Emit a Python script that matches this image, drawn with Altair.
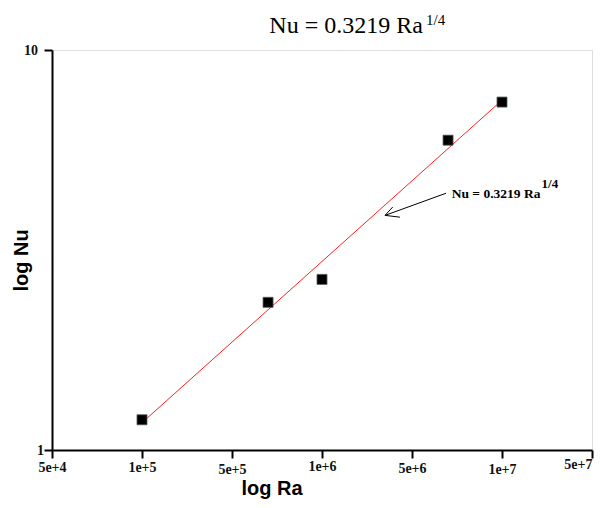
import altair as alt
import pandas as pd

# ---- data ----
ra_points = [1e5, 6.6e5, 1e6, 6.6e6, 1e7]
nu_points = [1.19, 2.34, 2.67, 5.95, 7.41]

fit_ra = [1e5, 9.8e6]
fit_nu = [1.17, 7.39]

x_ticks = [5e4, 1e5, 5e5, 1e6, 5e6, 1e7, 5e7]
y_ticks = [1, 10]

# annotation arrow segments (shaft, two head strokes)
arrow_x1 = [6.5e6, 3.09e6, 3.09e6]
arrow_y1 = [4.385, 3.86, 3.86]
arrow_x2 = [3.09e6, 3.54e6, 4.03e6]
arrow_y2 = [3.86, 4.05, 3.82]

ann_main = "Nu = 0.3219 Ra"
ann_sup = "1/4"
ann_main_pos = (6.79e6, 4.36)
ann_sup_pos = (2.03e7, 4.62)

title_main = "Nu = 0.3219 Ra"
title_sup = "1/4"

W, H = 540, 400
n = len(x_ticks) - 1
x_range = [W * i / n for i in range(len(x_ticks))]

xscale = alt.Scale(type="log", domain=x_ticks, range=x_range, nice=False)
yscale = alt.Scale(type="log", domain=[1, 10], nice=False)

serif = "Liberation Serif"
sans = "Liberation Sans"

x_axis = alt.Axis(
    values=x_ticks, format=".0e", title="log Ra", grid=False,
    labelFont=serif, labelFontWeight="bold", labelFontSize=14, labelColor="#111",
    labelFlush=False, labelOverlap=False, labelBaseline="middle",
    labelAlign={"condition": {"test": "datum.value == 50000000", "value": "right"}, "value": "center"},
    labelPadding={"condition": [
        {"test": "datum.value == 500000 || datum.value == 10000000", "value": 11.8},
        {"test": "datum.value == 5000000", "value": 10.5},
        {"test": "datum.value == 50000000", "value": 6.5},
        {"test": "datum.value == 1000000", "value": 8.8},
    ], "value": 9.2},
    tickSize=8, tickWidth=2, tickColor="black",
    domainColor="black", domainWidth=2,
    titleFont=sans, titleFontWeight="bold", titleFontSize=20, titleColor="black",
    titleX=219.5, titleY=44, titleBaseline="alphabetic", titleAlign="center",
)

y_axis = alt.Axis(
    values=y_ticks, format="d", title="log Nu", grid=False,
    labelFont=serif, labelFontWeight="bold", labelFontSize=14, labelColor="#111",
    labelFlush=False, labelOverlap=False,
    labelPadding={"condition": [
        {"test": "datum.value == 1", "value": 0.5},
    ], "value": 6.5},
    tickSize=8, tickWidth=2, tickColor="black",
    domainColor="black", domainWidth=2,
    titleFont=sans, titleFontWeight="bold", titleFontSize=20, titleColor="black",
    titleAngle=-90, titleX=-31, titleY=210, titleBaseline="middle", titleAlign="center",
)

pts = pd.DataFrame({"Ra": ra_points, "Nu": nu_points})
fit = pd.DataFrame({"Ra": fit_ra, "Nu": fit_nu})
arrows = pd.DataFrame({"x1": arrow_x1, "y1": arrow_y1, "x2": arrow_x2, "y2": arrow_y2})

line = alt.Chart(fit).mark_line(color="#ff2020", strokeWidth=1).encode(
    x=alt.X("Ra:Q", scale=xscale, axis=x_axis),
    y=alt.Y("Nu:Q", scale=yscale, axis=y_axis),
)

points = alt.Chart(pts).mark_point(
    shape="square", filled=True, size=100, color="black", opacity=1,
    stroke="#555", strokeWidth=0.8,
).encode(
    x=alt.X("Ra:Q", scale=xscale),
    y=alt.Y("Nu:Q", scale=yscale),
)

arrow = alt.Chart(arrows).mark_rule(color="black", strokeWidth=1).encode(
    x=alt.X("x1:Q", scale=xscale), y=alt.Y("y1:Q", scale=yscale),
    x2="x2:Q", y2="y2:Q",
)

ann1 = alt.Chart(pd.DataFrame({"Ra": [ann_main_pos[0]], "Nu": [ann_main_pos[1]], "t": [ann_main]})).mark_text(
    font=serif, fontWeight="bold", fontSize=13.5, align="left", baseline="middle", color="black",
).encode(x=alt.X("Ra:Q", scale=xscale), y=alt.Y("Nu:Q", scale=yscale), text="t:N")

ann2 = alt.Chart(pd.DataFrame({"Ra": [ann_sup_pos[0]], "Nu": [ann_sup_pos[1]], "t": [ann_sup]})).mark_text(
    font=serif, fontWeight="bold", fontSize=13, align="left", baseline="middle", color="black",
).encode(x=alt.X("Ra:Q", scale=xscale), y=alt.Y("Nu:Q", scale=yscale), text="t:N")

t1 = alt.Chart(pd.DataFrame({"t": [title_main]})).mark_text(
    font=serif, fontSize=24, align="left", baseline="alphabetic", color="black",
).encode(x=alt.value(217.3), y=alt.value(-16.7), text="t:N")

t2 = alt.Chart(pd.DataFrame({"t": [title_sup]})).mark_text(
    font=serif, fontSize=15, align="left", baseline="alphabetic", color="black",
).encode(x=alt.value(374), y=alt.value(-25), text="t:N")

chart = alt.layer(line, points, arrow, ann1, ann2, t1, t2).properties(
    width=W, height=H,
    autosize=alt.AutoSizeParams(type="none"),
    padding={"left": 44, "top": 42, "right": 2, "bottom": 50},
).configure_view(
    stroke="black", strokeWidth=2,
).configure(background="white")

chart.save("out.html", embed_options={"renderer": "svg", "actions": False})
